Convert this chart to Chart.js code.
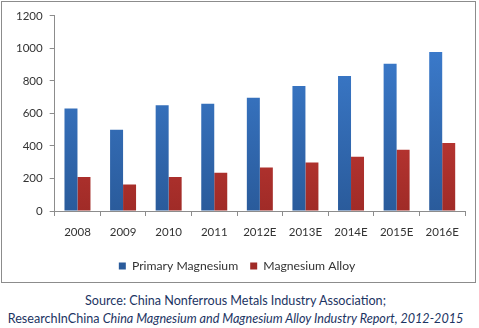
<!DOCTYPE html>
<html>
<head>
<meta charset="utf-8">
<script src="https://cdn.jsdelivr.net/npm/chart.js@4"></script>
<style>
  body { margin: 0; background: #fff; width: 479px; height: 328px; position: relative; font-family: Lato, sans-serif; }
  #box { position: absolute; left: 1px; top: 1px; width: 473px; height: 280px; border: 1px solid #8c8c8c; }
  #src { position: absolute; left: 0; top: 292px; width: 471px; text-align: center; color: #1c3463; font-size: 12.6px; line-height: 18px; white-space: nowrap; }
</style>
</head>
<body>
<div id="box"><canvas id="chart"></canvas></div>
<div id="src">Source: China Nonferrous Metals Industry Association;<br>ResearchInChina <i>China Magnesium and Magnesium Alloy Industry Report, 2012-2015</i></div>
<script>
const years = ["2008", "2009", "2010", "2011", "2012E", "2013E", "2014E", "2015E", "2016E"];
const primary = [630, 500, 651, 659, 697, 769, 830, 905, 978];
const alloy = [209, 163, 209, 236, 267, 299, 334, 376, 419];

function grad(top, bottom) {
  return function (c) {
    const area = c.chart.chartArea;
    if (!area) return top;
    const g = c.chart.ctx.createLinearGradient(0, area.top, 0, area.bottom);
    g.addColorStop(0, top);
    g.addColorStop(1, bottom);
    return g;
  };
}

const ctx = document.getElementById("chart");

new Chart(ctx, {
  type: "bar",
  data: {
    labels: years,
    datasets: [
      {
        label: "Primary Magnesium",
        data: primary,
        backgroundColor: grad("#3e80d4", "#2a5b9b"),
        borderWidth: 0,
      },
      {
        label: "Magnesium Alloy",
        data: alloy,
        backgroundColor: grad("#da4440", "#a02b27"),
        borderWidth: 0,
      },
    ],
  },
  options: {
    responsive: true,
    maintainAspectRatio: false,
    animation: false,
    layout: { padding: { top: 8, right: 10, left: 7, bottom: 0 } },
    datasets: { bar: { barPercentage: 1, categoryPercentage: 0.57 } },
    plugins: {
      tooltip: { enabled: false },
      legend: {
        position: "bottom",
        labels: {
          boxWidth: 7,
          boxHeight: 7,
          padding: 12,
          color: "#333",
          font: { family: "Lato", size: 12.2 },
        },
      },
    },
    scales: {
      x: {
        grid: { display: true, drawOnChartArea: false, drawTicks: true, tickLength: 5, color: "#8c8c8c", offset: true },
        border: { color: "#8c8c8c" },
        ticks: { color: "#333", font: { family: "Lato", size: 11.5 }, padding: 9, maxRotation: 0 },
      },
      y: {
        min: 0,
        max: 1200,
        grid: { display: true, drawOnChartArea: false, drawTicks: true, tickLength: 5, color: "#8c8c8c" },
        border: { color: "#8c8c8c" },
        ticks: { stepSize: 200, color: "#333", font: { family: "Lato", size: 11.5 }, padding: 7, callback: (v) => String(v) },
      },
    },
  },
});
</script>
</body>
</html>
